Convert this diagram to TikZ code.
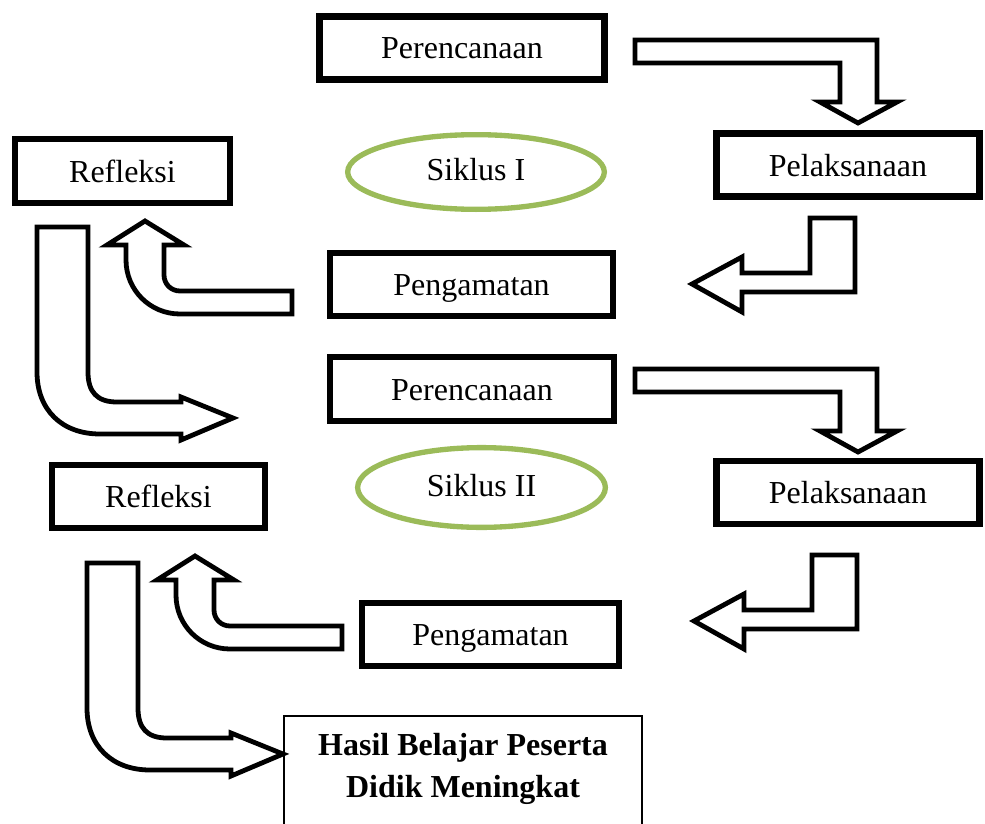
\documentclass[tikz,border=0pt]{standalone}
\usepackage{fontspec}
\setmainfont{Liberation Serif}
\usetikzlibrary{shapes.geometric}
\definecolor{hijau}{RGB}{155,187,89}

\begin{document}
\begin{tikzpicture}[x=0.75pt,y=-0.75pt,
  kotak/.style={draw,line width=4.9pt,inner sep=0pt,text height=16.5pt,text depth=0pt,font=\fontsize{24}{29}\selectfont},
  siklus/.style={draw=hijau,ellipse,line width=4pt,inner sep=0pt,text height=13pt,text depth=0pt,font=\fontsize{24}{29}\selectfont},
  panah/.style={draw,line width=3.6pt,fill=white}]
\useasboundingbox (0,0) rectangle (985,824);

 % siklus I
 \node[kotak,minimum width=213.75pt,minimum height=47.25pt] (pr1) at (462,48) {Perencanaan};
 \node[kotak,minimum width=197.25pt,minimum height=47.25pt] (pl1) at (848,165) {Pelaksanaan};
 \node[kotak,minimum width=161.25pt,minimum height=48pt] (rf1) at (122.5,171) {Refleksi};
 \node[siklus,minimum width=192.5pt,minimum height=56pt] (sk1) at (476,172) {Siklus I};
 \node[kotak,minimum width=212.25pt,minimum height=47.25pt] (pg1) at (471.5,284.5) {Pengamatan};

 \draw[panah] (635,40) -- ++(242,0) -- ++(0,62) -- ++(20,0) -- ++(-39,21) -- ++(-38,-21) -- ++(20,0) -- ++(0,-39) -- ++(-205,0) -- cycle;
 \draw[panah] (810,218) -- ++(45,0) -- ++(0,74) -- ++(-113,0) -- ++(0,20) -- ++(-50,-28) -- ++(50,-27) -- ++(0,16) -- ++(68,0) -- cycle;
 \draw[panah] (292,291) -- (292,314) -- (180,314) .. controls (150,314) and (126,290) .. (126,260) -- (126,245) -- (107,245) -- (145,221) -- (184,245) -- (164,245) -- (164,275) .. controls (164,284) and (171,291) .. (180,291) -- cycle;
 \draw[panah] (37,227) -- (88,227) -- (88,372) .. controls (88,392) and (97,402) .. (117,402) -- (181,402) -- (181,397) -- (233,418) -- (181,440) -- (181,434) -- (100,434) .. controls (62,434) and (37,410) .. (37,372) -- cycle;

 % siklus II
 \node[kotak,minimum width=213pt,minimum height=48pt] (pr2) at (472,389) {Perencanaan};
 \node[kotak,minimum width=197.25pt,minimum height=47.25pt] (pl2) at (848,492.5) {Pelaksanaan};
 \node[kotak,minimum width=159.75pt,minimum height=47.25pt] (rf2) at (158.5,496.5) {Refleksi};
 \node[siklus,minimum width=185.8pt,minimum height=59.8pt] (sk2) at (481.5,487.5) {Siklus II};
 \node[kotak,minimum width=192.75pt,minimum height=47.25pt] (pg2) at (490.5,634.5) {Pengamatan};

 \draw[panah] (635,369) -- ++(242,0) -- ++(0,62) -- ++(20,0) -- ++(-39,21) -- ++(-38,-21) -- ++(20,0) -- ++(0,-39) -- ++(-205,0) -- cycle;
 \draw[panah] (812,555) -- ++(45,0) -- ++(0,74) -- ++(-113,0) -- ++(0,20) -- ++(-50,-28) -- ++(50,-27) -- ++(0,16) -- ++(68,0) -- cycle;
 \begin{scope}[shift={(50,335)}]
 \draw[panah] (292,291) -- (292,314) -- (180,314) .. controls (150,314) and (126,290) .. (126,260) -- (126,245) -- (107,245) -- (145,221) -- (184,245) -- (164,245) -- (164,275) .. controls (164,284) and (171,291) .. (180,291) -- cycle;
 \end{scope}
 \begin{scope}[shift={(50,336)}]
 \draw[panah] (37,227) -- (88,227) -- (88,372) .. controls (88,392) and (97,402) .. (117,402) -- (181,402) -- (181,397) -- (233,418) -- (181,440) -- (181,434) -- (100,434) .. controls (62,434) and (37,410) .. (37,372) -- cycle;
 \end{scope}

 \node[draw,line width=1.5pt,anchor=north,outer sep=0pt,inner xsep=0pt,inner ysep=13pt,minimum width=268.5pt,text depth=70pt,align=center,font=\fontsize{24}{31.5}\selectfont\bfseries] (hasil) at (463,716) {Hasil Belajar Peserta\\Didik Meningkat};
\end{tikzpicture}
\end{document}
